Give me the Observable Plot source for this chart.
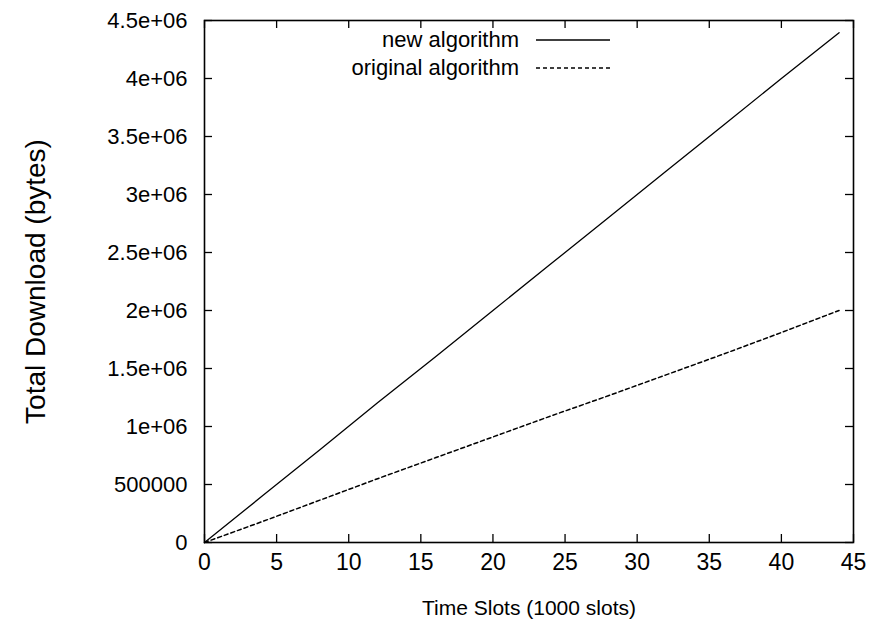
<!DOCTYPE html>
<html>
<head>
<meta charset="utf-8">
<script src="https://cdn.jsdelivr.net/npm/d3@7"></script>
<script src="https://cdn.jsdelivr.net/npm/@observablehq/plot@0.6"></script>
<style>
  html, body { margin: 0; padding: 0; background: #fff; }
  #wrap { position: relative; width: 875px; height: 628px; font-family: "Liberation Sans", Arial, Helvetica, sans-serif; }
  #legend { position: absolute; right: 265px; top: 26px; font-size: 22px; color: #000; }
  #legend .row { display: flex; align-items: center; justify-content: flex-end; height: 28px; }
  #legend svg { margin-left: 17px; }
</style>
</head>
<body>
<div id="wrap"></div>
<script>
// Data
const timeSlots = [0, 4, 8, 12, 16, 20, 24, 28, 32, 36, 40, 44];
const newAlgorithm = [0, 400000, 800000, 1205000, 1600000, 2000000, 2400000, 2800000, 3200000, 3600000, 4000000, 4395000];
const originalAlgorithm = [0, 180000, 365000, 550000, 730000, 910000, 1090000, 1265000, 1445000, 1625000, 1810000, 2000000];
const seriesNames = ["new algorithm", "original algorithm"];
const xTicks = [0, 5, 10, 15, 20, 25, 30, 35, 40, 45];
const yTicks = [0, 500000, 1000000, 1500000, 2000000, 2500000, 3000000, 3500000, 4000000, 4500000];
const xTitle = "Time Slots (1000 slots)";
const yTitle = "Total Download (bytes)";

const rows = [];
timeSlots.forEach((t, i) => {
  rows.push({t, v: newAlgorithm[i], s: seriesNames[0]});
  rows.push({t, v: originalAlgorithm[i], s: seriesNames[1]});
});

const W = 875, H = 628;
const mL = 204, mR = 22, mT = 20, mB = 86;
const fw = W - mL - mR, fh = H - mT - mB;

const yFmt = d => d === 0 ? "0" : d < 1e6 ? String(d) : (d / 1e6) + "e+06";

const chart = Plot.plot({
  width: W, height: H,
  marginLeft: mL, marginRight: mR, marginTop: mT, marginBottom: mB,
  style: {fontFamily: "'Liberation Sans', Arial, Helvetica, sans-serif", fontSize: "20px", color: "#000", background: "#fff"},
  x: {domain: [0, 45]},
  y: {domain: [0, 4500000]},
  marks: [
    Plot.axisX(xTicks, {tickSize: 0, tickPadding: 11, label: null, fontSize: 23}),
    Plot.axisY(yTicks, {tickSize: 0, tickPadding: 17, label: null, tickFormat: yFmt, fontSize: 22}),
    // inward ticks on all four sides
    Plot.tickX(xTicks, {x: d => d, insetTop: fh - 8, stroke: "#000", strokeWidth: 1.3}),
    Plot.tickX(xTicks, {x: d => d, insetBottom: fh - 8, stroke: "#000", strokeWidth: 1.3}),
    Plot.tickY(yTicks, {y: d => d, insetRight: fw - 8, stroke: "#000", strokeWidth: 1.3}),
    Plot.tickY(yTicks, {y: d => d, insetLeft: fw - 8, stroke: "#000", strokeWidth: 1.3}),
    Plot.line(rows.filter(d => d.s === seriesNames[0]), {x: "t", y: "v", stroke: "#000", strokeWidth: 1.3}),
    Plot.line(rows.filter(d => d.s === seriesNames[1]), {x: "t", y: "v", stroke: "#000", strokeWidth: 1.5, strokeDasharray: "4,3"}),
    Plot.frame({stroke: "#000", strokeWidth: 1.6}),
    Plot.text([xTitle], {text: d => d, frameAnchor: "bottom", textAnchor: "middle", dy: 66, lineAnchor: "middle", fontSize: 21}),
    Plot.text([yTitle], {text: d => d, frameAnchor: "left", textAnchor: "middle", dx: -168, rotate: -90, lineAnchor: "middle", fontSize: 28})
  ]
});

const wrap = document.getElementById("wrap");
wrap.appendChild(chart);

// Legend overlay (inside plot area, top region)
const legend = document.createElement("div");
legend.id = "legend";
const dashes = ["", "4,3"];
legend.innerHTML = seriesNames.map((n, i) =>
  `<div class="row"><span>${n}</span><svg width="74" height="4"><line x1="0" x2="74" y1="2" y2="2" stroke="#000" stroke-width="${i ? 1.5 : 1.3}" ${dashes[i] ? `stroke-dasharray="${dashes[i]}"` : ""}/></svg></div>`
).join("");
wrap.appendChild(legend);
</script>
</body>
</html>
